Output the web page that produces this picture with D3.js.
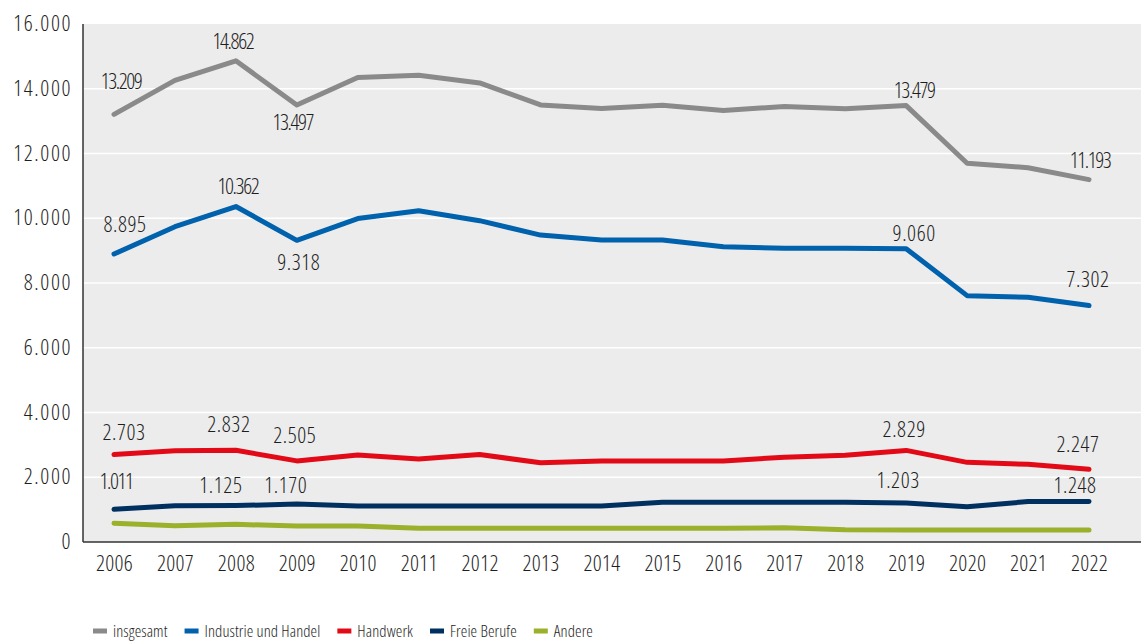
<!DOCTYPE html>
<html>
<head>
<meta charset="utf-8">
<script src="https://cdn.jsdelivr.net/npm/d3@7"></script>
<style>
  body { margin: 0; background: #fff; }
  svg text { font-family: "Open Sans", sans-serif; font-stretch: condensed; font-weight: 350; fill: #1e1e1e; }
</style>
</head>
<body>
<div id="chart"></div>
<script>
// data
var years = [2006, 2007, 2008, 2009, 2010, 2011, 2012, 2013, 2014, 2015, 2016, 2017, 2018, 2019, 2020, 2021, 2022];
var insgesamt = [13209, 14260, 14862, 13497, 14350, 14420, 14180, 13500, 13390, 13490, 13330, 13450, 13380, 13479, 11700, 11560, 11193];
var industrie = [8895, 9740, 10362, 9318, 9990, 10230, 9925, 9480, 9330, 9330, 9120, 9070, 9070, 9060, 7610, 7560, 7302];
var handwerk = [2703, 2820, 2832, 2505, 2690, 2565, 2700, 2450, 2500, 2500, 2500, 2620, 2680, 2829, 2460, 2400, 2247];
var freie = [1011, 1120, 1125, 1170, 1110, 1110, 1110, 1110, 1110, 1225, 1225, 1225, 1225, 1203, 1090, 1250, 1248];
var andere = [580, 500, 545, 495, 495, 425, 425, 425, 425, 425, 425, 440, 380, 370, 370, 370, 370];
var yTicks = [0, 2000, 4000, 6000, 8000, 10000, 12000, 14000, 16000];

var seriesNames = ["insgesamt", "Industrie und Handel", "Handwerk", "Freie Berufe", "Andere"];
var seriesColors = ["#8a8a8a", "#0061ad", "#e30a17", "#00305f", "#9bb02b"];
var seriesValues = [insgesamt, industrie, handwerk, freie, andere];

// which points get a value label: [series index, year, dx, dy, tight]
var labelSpots = [
  [0, 2006, 7, -25, true], [0, 2008, -3, -12, true], [0, 2009, -4, 25, true], [0, 2019, 8, -8, true], [0, 2022, 1, -12, true],
  [1, 2006, 11, -22, false], [1, 2008, 2, -13, true], [1, 2009, 2, 30, false], [1, 2019, 8, -8, false], [1, 2022, -1, -19, false],
  [2, 2006, 10, -14, false], [2, 2008, -7, -18, false], [2, 2009, -2, -18, false], [2, 2019, -2, -13, false], [2, 2022, -11, -17, false],
  [3, 2006, 2, -20, true], [3, 2008, -15, -13, false], [3, 2009, -11, -11, false], [3, 2019, -8, -15, false], [3, 2022, -14, -9, false]
];

var width = 1141, height = 641;
var plot = {left: 83, right: 1141, top: 24, bottom: 542};

var de = d3.formatLocale({decimal: ",", thousands: ".", grouping: [3], currency: ["", " €"]});
var fmt = de.format(",.0f");

var x = d3.scaleLinear()
    .domain([2006, 2022])
    .range([114, 1089]);
var y = d3.scaleLinear()
    .domain([0, 16000])
    .range([plot.bottom, plot.top]);

var svg = d3.select("#chart").append("svg")
    .attr("width", width)
    .attr("height", height);

// plot background
svg.append("rect")
    .attr("x", plot.left)
    .attr("y", plot.top)
    .attr("width", plot.right - plot.left)
    .attr("height", plot.bottom - plot.top)
    .style("fill", "#ececec");

// gridlines
svg.append("g").selectAll("line")
    .data(yTicks.filter(function(d) { return d > 0 && d < 16000; }))
    .enter().append("line")
    .attr("x1", plot.left)
    .attr("x2", plot.right)
    .attr("y1", function(d) { return y(d); })
    .attr("y2", function(d) { return y(d); })
    .style("stroke", "#fff")
    .style("stroke-width", 1.6);

// y axis
var yAxis = d3.axisLeft(y)
    .tickValues(yTicks)
    .tickSize(0)
    .tickPadding(11)
    .tickFormat(fmt);
var yg = svg.append("g")
    .attr("transform", "translate(" + plot.left + ",0)")
    .call(yAxis);
yg.select(".domain").remove();
yg.selectAll("text")
    .attr("font-size", 22)
    .attr("letter-spacing", 1.6)
    .attr("dy", "0.3em");

// x axis labels
var xAxis = d3.axisBottom(x)
    .tickValues(years)
    .tickSize(0)
    .tickPadding(13)
    .tickFormat(d3.format("d"));
var xg = svg.append("g")
    .attr("transform", "translate(0," + plot.bottom + ")")
    .call(xAxis);
xg.select(".domain").remove();
xg.selectAll("text").attr("font-size", 22).attr("letter-spacing", 0.3);

// axis lines
svg.append("line")
    .attr("x1", plot.left).attr("x2", plot.left)
    .attr("y1", plot.top).attr("y2", plot.bottom)
    .style("stroke", "#333").style("stroke-width", 1.5);
svg.append("line")
    .attr("x1", plot.left).attr("x2", plot.right)
    .attr("y1", plot.bottom).attr("y2", plot.bottom)
    .style("stroke", "#333").style("stroke-width", 1.5);

// lines
var line = d3.line()
    .x(function(d, i) { return x(years[i]); })
    .y(function(d) { return y(d); });

// draw bottom series first so the totals sit on top
svg.append("g").attr("class", "linegroup")
    .selectAll("path")
    .data(seriesValues.slice().reverse())
    .enter().append("path")
    .attr("d", line)
    .style("fill", "none")
    .style("stroke", function(d, i) { return seriesColors[seriesColors.length - 1 - i]; })
    .style("stroke-width", 5)
    .style("stroke-linecap", "round")
    .style("stroke-linejoin", "round");

// value labels
svg.append("g").selectAll("text")
    .data(labelSpots)
    .enter().append("text")
    .attr("x", function(d) { return x(d[1]) + d[2]; })
    .attr("y", function(d) { return y(seriesValues[d[0]][years.indexOf(d[1])]) + d[3]; })
    .attr("text-anchor", "middle")
    .attr("font-size", 22)
    .attr("letter-spacing", function(d) { return d[4] ? -1.4 : 0.6; })
    .text(function(d) { return fmt(seriesValues[d[0]][years.indexOf(d[1])]); });

// legend
var legend = svg.append("g").attr("transform", "translate(93,631)");
var lx = 0;
seriesNames.forEach(function(name, i) {
  var item = legend.append("g").attr("transform", "translate(" + lx + ",0)");
  item.append("rect")
      .attr("x", 0).attr("y", -2.5)
      .attr("width", 14).attr("height", 5)
      .style("fill", seriesColors[i]);
  var t = item.append("text")
      .attr("x", 20)
      .attr("dy", "0.35em")
      .attr("font-size", 16.5)
      .attr("letter-spacing", 0.1)
      .text(name);
  lx += 20 + t.node().getComputedTextLength() + 17;
});
</script>
</body>
</html>
